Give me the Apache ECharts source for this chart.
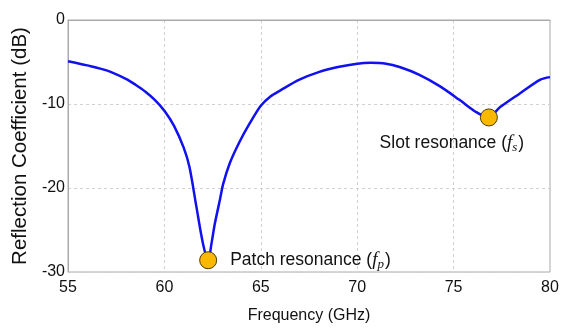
<!DOCTYPE html>
<html>
<head>
<meta charset="utf-8">
<script src="https://cdn.jsdelivr.net/npm/echarts@6/dist/echarts.min.js"></script>
<style>html,body{margin:0;padding:0;background:#fff;}#c{width:571px;height:331px;}</style>
</head>
<body>
<div id="c"></div>
<script>
// Data
var freq = [55, 56, 57, 58, 58.5, 59, 59.5, 60, 60.5, 61, 61.3, 61.65, 62.0, 62.27, 62.45, 62.62, 62.88, 63.05, 63.4, 63.9, 64.4, 65, 65.5, 66, 67, 68, 69, 70, 70.7, 71.5, 72.2, 73.2, 74.3, 75.3, 76.2, 76.8, 77.4, 78.4, 79.5, 80];
var s11  = [-4.9, -5.4, -6.0, -7.0, -7.7, -8.5, -9.5, -10.8, -12.6, -15.2, -17.5, -22.1, -26.6, -28.6, -26.5, -24.2, -21.4, -19.5, -17.0, -14.5, -12.4, -10.2, -9.1, -8.4, -7.1, -6.2, -5.6, -5.2, -5.1, -5.2, -5.6, -6.5, -7.9, -9.5, -11.0, -11.6, -10.4, -8.8, -7.1, -6.8];
var resFreq = [62.27, 76.83];
var resVal = [-28.6, -11.6];
var resName = ['Patch resonance', 'Slot resonance'];
var resSub = ['p', 's'];
var xTicks = [55, 60, 65, 70, 75, 80];
var yTicks = [0, -10, -20, -30];

// detect narrow font availability
function hasFont(name) {
  var cv = document.createElement('canvas').getContext('2d');
  cv.font = '20px monospace';
  var a = cv.measureText('Frequency (GHz) 0123').width;
  cv.font = '20px "' + name + '", monospace';
  var b = cv.measureText('Frequency (GHz) 0123').width;
  return Math.abs(a - b) > 0.5;
}
var narrow = hasFont('Liberation Sans Narrow');
var condFamily = narrow ? '"Liberation Sans Narrow", "Liberation Sans", Arial, sans-serif' : '"Liberation Sans", Arial, sans-serif';
var tickSize = narrow ? 19 : 16;
var titleSize = narrow ? 19 : 16;

var lineData = freq.map(function (f, i) { return [f, s11[i]]; });
var labelPos = [
  { position: 'right', distance: 13 },
  { position: 'bottom', distance: 6, offset: [-37, 0] }
];
var markData = resFreq.map(function (f, i) {
  return { value: [f, resVal[i]], name: resName[i], sub: resSub[i], label: labelPos[i] };
});

var chart = echarts.init(document.getElementById('c'), null, { renderer: 'canvas' });
var tickFont = { fontFamily: condFamily, fontSize: tickSize, color: '#111' };
chart.setOption({
  animation: false,
  backgroundColor: '#fff',
  grid: { left: 68, right: 21, top: 20, bottom: 59, show: true, borderColor: '#aaa', borderWidth: 1 },
  xAxis: {
    type: 'value', min: 55, max: 80, interval: 5,
    name: 'Frequency (GHz)', nameLocation: 'middle', nameGap: 36,
    nameTextStyle: { fontFamily: condFamily, fontSize: titleSize, color: '#111' },
    axisLine: { show: true, lineStyle: { color: '#aaa' } },
    axisTick: { show: false },
    axisLabel: Object.assign({ margin: 8, formatter: function (v) { return xTicks.indexOf(v) >= 0 ? String(v) : ''; } }, tickFont),
    splitLine: { show: true, lineStyle: { color: '#d0d0d0', type: [3, 3], width: 1 } }
  },
  yAxis: {
    type: 'value', min: -30, max: 0, interval: 10,
    name: 'Reflection Coefficient (dB)', nameLocation: 'middle', nameGap: 33, nameRotate: 90,
    nameTextStyle: { fontFamily: '"Liberation Sans", Arial, sans-serif', fontSize: 20.5, color: '#111' },
    axisLine: { show: true, lineStyle: { color: '#aaa' } },
    axisTick: { show: false },
    axisLabel: Object.assign({ margin: 3, formatter: function (v) { return yTicks.indexOf(v) >= 0 ? String(v) : ''; } }, tickFont),
    splitLine: { show: true, lineStyle: { color: '#d0d0d0', type: [3, 3], width: 1 } }
  },
  series: [
    {
      type: 'line', data: lineData, smooth: 0.3, showSymbol: false,
      lineStyle: { color: '#1010f0', width: 2.5 }, z: 2
    },
    {
      type: 'scatter', data: markData, symbolSize: 17, z: 3,
      itemStyle: { color: '#fbb800', borderColor: '#4a3c00', borderWidth: 1, opacity: 1 },
      label: {
        show: true,
        formatter: function (p) {
          return p.data.name + ' ({f|f}{sub|' + p.data.sub + '})';
        },
        fontFamily: '"Liberation Sans", Arial, sans-serif', fontSize: 17.5, color: '#111',
        rich: {
          f: { fontFamily: '"Liberation Serif", "Times New Roman", serif', fontStyle: 'italic', fontSize: 19, color: '#111' },
          sub: { fontFamily: '"Liberation Serif", "Times New Roman", serif', fontStyle: 'italic', fontSize: 13, color: '#111', verticalAlign: 'bottom', padding: [9, 1, 0, 0] }
        }
      }
    }
  ]
});
</script>
</body>
</html>
